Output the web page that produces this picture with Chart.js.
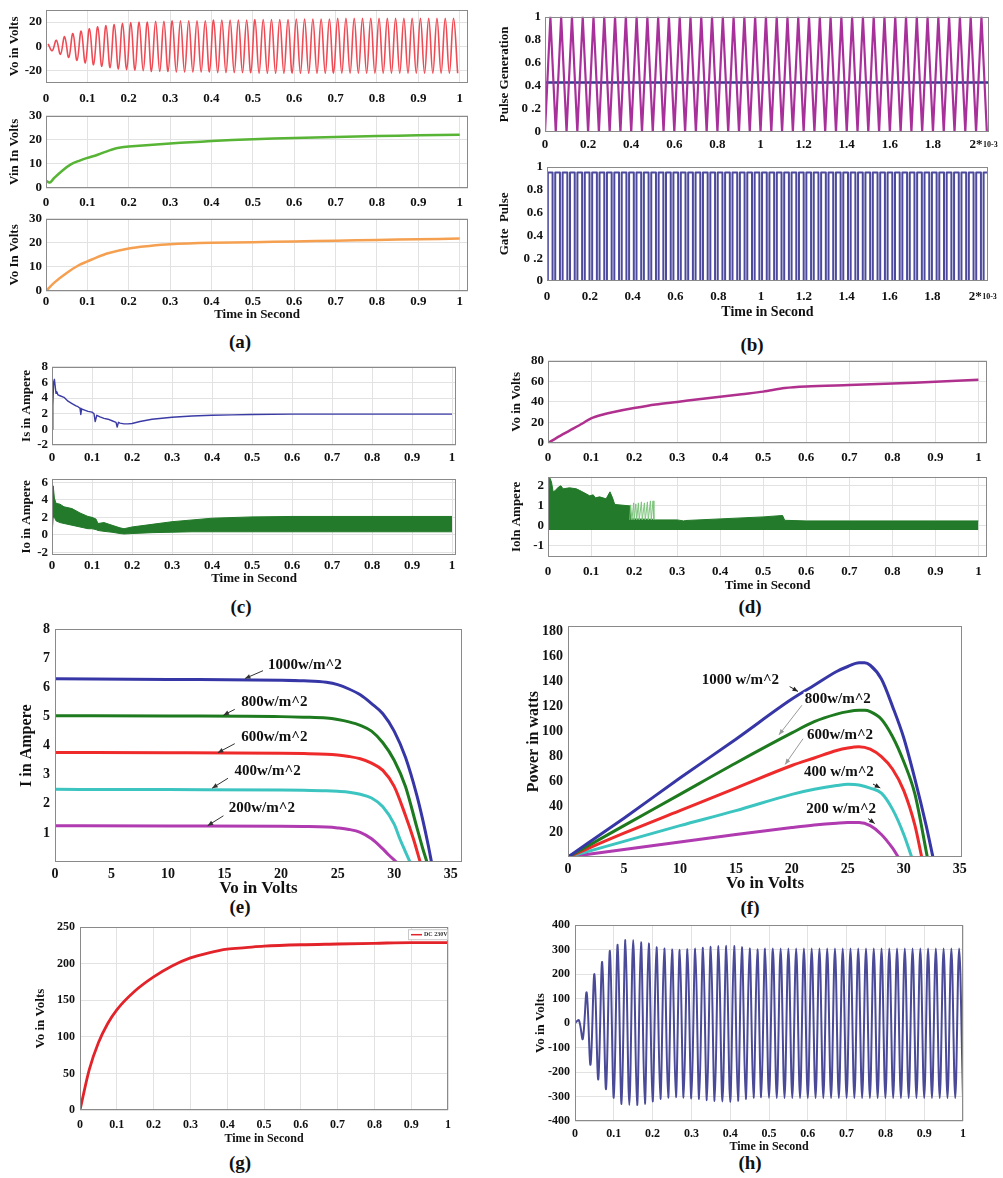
<!DOCTYPE html>
<html>
<head>
<meta charset="utf-8">
<script src="https://cdn.jsdelivr.net/npm/chart.js@4.4.0/dist/chart.umd.min.js"></script>
<style>
  html, body { margin: 0; padding: 0; background: #fff; }
  #fig { position: relative; width: 1003px; height: 1178px; overflow: hidden; background: #fff; }
  #fig canvas { position: absolute; }
  .cap { position: absolute; font: bold 19px 'Liberation Serif', serif; color: #111; transform: translate(-50%, -50%); }
</style>
</head>
<body>
<div id="fig">
  <div class="cap" style="left:240px;top:342px">(a)</div>
  <div class="cap" style="left:752px;top:345px">(b)</div>
  <div class="cap" style="left:241px;top:607px">(c)</div>
  <div class="cap" style="left:750px;top:607px">(d)</div>
  <div class="cap" style="left:240px;top:907px">(e)</div>
  <div class="cap" style="left:750px;top:908px">(f)</div>
  <div class="cap" style="left:240px;top:1163px">(g)</div>
  <div class="cap" style="left:750px;top:1163px">(h)</div>
</div>
<script>
// ---------- (a) inverter output / Vin / Vo ----------
const timeTicks = [0, 0.1, 0.2, 0.3, 0.4, 0.5, 0.6, 0.7, 0.8, 0.9, 1];
const aWaveFirst = 0.005, aWaveHalfPeriod = 0.01;
const aWavePeaks = [
  2, -3.5, 5, -6.5, 8, -9, 10.5, -11.5, 12.5, -13.5,
  14.5, -15, 16, -16.5, 17, -17.5, 18, -18.5, 19, -19,
  19.5, -19.5, 20, -20, 20, -20.5, 20.5, -20.5, 20.5, -20.5,
  21, -21, 21, -21, 21, -21, 21, -21, 21, -21,
  21.5, -21.5, 21.5, -21.5, 21.5, -21.5, 21.5, -21.5, 21.5, -21.5,
  22, -22, 22, -22, 22, -22, 22, -22, 22, -22,
  22.5, -22, 22.5, -22, 22.5, -22, 22.5, -22, 22.5, -22,
  23, -22, 23, -22, 23, -22, 23, -22, 23, -22,
  23, -22, 23, -22, 23, -22, 23, -22, 23, -22,
  23, -22, 23, -22, 23, -22, 23, -22, 23, -22
];
const vinT = [0, 0.005, 0.01, 0.015, 0.02, 0.04, 0.06, 0.08, 0.1, 0.12, 0.14, 0.16, 0.18, 0.2, 0.25, 0.3, 0.35, 0.4, 0.5, 0.6, 0.7, 0.8, 0.9, 1];
const vinV = [3, 2.5, 2.3, 3.2, 4.2, 7.3, 9.8, 11.3, 12.5, 13.5, 14.8, 16, 16.8, 17.2, 17.9, 18.5, 19, 19.5, 20.3, 20.8, 21.2, 21.6, 21.9, 22.1];
const voT = [0, 0.02, 0.05, 0.08, 0.1, 0.12, 0.15, 0.2, 0.25, 0.3, 0.4, 0.5, 0.6, 0.7, 0.8, 0.9, 1];
const voV = [0, 3.5, 7.5, 10.8, 12.3, 13.8, 15.7, 17.7, 18.7, 19.4, 20, 20.3, 20.6, 20.9, 21.2, 21.5, 21.8];

// ---------- (b) carrier / gate pulses (time in ms) ----------
const msTicks = [0, 0.2, 0.4, 0.6, 0.8, 1, 1.2, 1.4, 1.6, 1.8, 2];
const msLabels = ['0', '0.2', '0.4', '0.6', '0.8', '1', '1.2', '1.4', '1.6', '1.8', '2*'];
const unitTicks = [0, 0.2, 0.4, 0.6, 0.8, 1];
const unitLabels = ['0', '0 .2', '0.4', '0.6', '0.8', '1'];
const carrierHalfPeriod = 0.025;
const carrierLevels = [
  0, 1, 0, 1, 0, 1, 0, 1, 0, 1, 0, 1, 0, 1, 0, 1, 0, 1, 0, 1,
  0, 1, 0, 1, 0, 1, 0, 1, 0, 1, 0, 1, 0, 1, 0, 1, 0, 1, 0, 1,
  0, 1, 0, 1, 0, 1, 0, 1, 0, 1, 0, 1, 0, 1, 0, 1, 0, 1, 0, 1,
  0, 1, 0, 1, 0, 1, 0, 1, 0, 1, 0, 1, 0, 1, 0, 1, 0, 1, 0, 1,
  0, 1, 0
];
const refT = [0, 2.06];
const refLevel = [0.43, 0.43];
const gateHigh = 0.95;
const gateRise = [
  0.004, 0.0385, 0.073, 0.1075, 0.142, 0.1765, 0.211, 0.2455, 0.28, 0.3145,
  0.349, 0.3835, 0.418, 0.4525, 0.487, 0.5215, 0.556, 0.5905, 0.625, 0.6595,
  0.694, 0.7285, 0.763, 0.7975, 0.832, 0.8665, 0.901, 0.9355, 0.97, 1.0045,
  1.039, 1.0735, 1.108, 1.1425, 1.177, 1.2115, 1.246, 1.2805, 1.315, 1.3495,
  1.384, 1.4185, 1.453, 1.4875, 1.522, 1.5565, 1.591, 1.6255, 1.66, 1.6945,
  1.729, 1.7635, 1.798, 1.8325, 1.867, 1.9015, 1.936, 1.9705, 2.005, 2.0395
];
const gateFall = [
  0.026, 0.0605, 0.095, 0.1295, 0.164, 0.1985, 0.233, 0.2675, 0.302, 0.3365,
  0.371, 0.4055, 0.44, 0.4745, 0.509, 0.5435, 0.578, 0.6125, 0.647, 0.6815,
  0.716, 0.7505, 0.785, 0.8195, 0.854, 0.8885, 0.923, 0.9575, 0.992, 1.0265,
  1.061, 1.0955, 1.13, 1.1645, 1.199, 1.2335, 1.268, 1.3025, 1.337, 1.3715,
  1.406, 1.4405, 1.475, 1.5095, 1.544, 1.5785, 1.613, 1.6475, 1.682, 1.7165,
  1.751, 1.7855, 1.82, 1.8545, 1.889, 1.9235, 1.958, 1.9925, 2.027, 2.0615
];

// ---------- (c) Is / Io ----------
const isT = [0, 0.002, 0.004, 0.006, 0.008, 0.01, 0.012, 0.015, 0.02, 0.03, 0.04, 0.05, 0.06, 0.065, 0.07, 0.072, 0.074, 0.08, 0.09, 0.1, 0.105, 0.108, 0.112, 0.12, 0.13, 0.14, 0.15, 0.16, 0.163, 0.166, 0.17, 0.18, 0.19, 0.2, 0.22, 0.25, 0.3, 0.35, 0.4, 0.45, 0.5, 0.6, 0.7, 0.8, 0.9, 1];
const isA = [0, 3, 6, 6.4, 5.5, 4.6, 4.8, 4.4, 4.3, 4.1, 3.6, 3.3, 3, 2.9, 2.7, 1.9, 2.6, 2.5, 2.3, 2.2, 2, 1, 1.8, 1.6, 1.4, 1.3, 1.1, 0.9, 0.3, 0.9, 0.8, 0.7, 0.7, 0.75, 1, 1.3, 1.55, 1.7, 1.8, 1.85, 1.9, 1.95, 1.95, 1.95, 1.95, 1.95];
const ioT = [0, 0.003, 0.006, 0.01, 0.02, 0.03, 0.05, 0.07, 0.09, 0.1, 0.11, 0.115, 0.13, 0.15, 0.17, 0.18, 0.2, 0.25, 0.3, 0.35, 0.4, 0.5, 0.6, 0.7, 0.8, 0.9, 1];
const ioHigh = [1.5, 5.6, 4.2, 3.6, 3.5, 3.2, 3.0, 2.5, 2.1, 2.0, 1.8, 1.3, 1.4, 1.1, 0.8, 0.7, 0.9, 1.2, 1.5, 1.7, 1.9, 2.05, 2.1, 2.1, 2.1, 2.1, 2.1];
const ioLow = [0, 2.0, 2.0, 1.6, 1.4, 1.3, 1.1, 0.9, 0.7, 0.7, 0.6, 0.5, 0.4, 0.3, 0.15, 0.1, 0.15, 0.25, 0.3, 0.35, 0.35, 0.35, 0.35, 0.35, 0.35, 0.35, 0.35];

// ---------- (d) boost Vo / Io ----------
const dvT = [0, 0.02, 0.05, 0.08, 0.1, 0.13, 0.15, 0.2, 0.25, 0.3, 0.35, 0.4, 0.45, 0.5, 0.55, 0.6, 0.7, 0.8, 0.9, 1];
const dvV = [0, 5, 12, 19, 24, 28, 30, 34, 37.5, 40, 42.5, 45, 47.5, 50, 53.5, 55, 56.5, 58, 59.5, 61.5];
const diT = [0, 0.004, 0.008, 0.012, 0.016, 0.025, 0.03, 0.035, 0.05, 0.066, 0.08, 0.097, 0.105, 0.11, 0.12, 0.135, 0.144, 0.15, 0.155, 0.19, 0.192, 0.245, 0.25, 0.3, 0.315, 0.32, 0.4, 0.5, 0.545, 0.55, 0.6, 0.7, 0.8, 0.9, 1];
const diHigh = [1.0, 2.4, 2.2, 1.7, 1.75, 1.95, 2.0, 1.85, 1.9, 1.85, 1.7, 1.5, 1.55, 1.4, 1.45, 1.35, 1.7, 1.4, 1.07, 1.0, 0.35, 0.33, 0.3, 0.3, 0.25, 0.27, 0.35, 0.45, 0.52, 0.28, 0.25, 0.25, 0.25, 0.25, 0.25];
const diFloor = -0.2;
// lighter switching spikes between 0.19 and 0.245
const diSpikeT = [0.19, 0.192, 0.195, 0.199, 0.2, 0.204, 0.206, 0.21, 0.212, 0.217, 0.219, 0.224, 0.226, 0.231, 0.233, 0.238, 0.24, 0.244, 0.246];
const diSpike = [0.3, 1.05, 0.3, 1.15, 0.3, 1.1, 0.3, 1.15, 0.3, 1.2, 0.3, 1.15, 0.3, 1.2, 0.3, 1.25, 0.3, 1.25, 0.3];

// ---------- (e) I-V curves ----------
const voltTicks = [0, 5, 10, 15, 20, 25, 30, 35];
const ivV1000 = [0, 10, 20, 22, 24, 25, 26, 27, 28, 29, 30, 31, 32, 32.5, 33, 33.3];
const ivI1000 = [6.3, 6.28, 6.25, 6.23, 6.18, 6.1, 5.95, 5.75, 5.45, 5.1, 4.5, 3.6, 2.3, 1.5, 0.6, 0];
const ivV800 = [0, 10, 20, 22, 24, 25, 26, 27, 28, 29, 30, 31, 32, 32.5, 32.9];
const ivI800 = [5.03, 5.02, 5.0, 4.98, 4.95, 4.9, 4.82, 4.7, 4.5, 4.1, 3.5, 2.6, 1.2, 0.5, 0];
const ivV600 = [0, 10, 20, 22, 24, 25, 26, 27, 28, 29, 30, 31, 31.7, 32.3];
const ivI600 = [3.77, 3.76, 3.74, 3.73, 3.71, 3.68, 3.63, 3.55, 3.4, 3.15, 2.6, 1.6, 0.8, 0];
const ivV400 = [0, 10, 20, 22, 24, 25, 26, 27, 28, 29, 30, 30.5, 31, 31.4];
const ivI400 = [2.5, 2.49, 2.48, 2.47, 2.45, 2.43, 2.4, 2.33, 2.2, 1.9, 1.3, 0.8, 0.35, 0];
const ivV200 = [0, 10, 20, 22, 24, 25, 26, 27, 28, 29, 29.5, 30.2];
const ivI200 = [1.25, 1.24, 1.23, 1.22, 1.2, 1.17, 1.12, 1.02, 0.8, 0.45, 0.25, 0];
const eNotes = [
  { text: '1000w/m^2', x: 22.1, y: 6.78, from: [18.4, 6.58], to: [16.8, 6.31] },
  { text: '800w/m^2', x: 19.4, y: 5.49, from: [15.9, 5.25], to: [14.9, 5.05] },
  { text: '600w/m^2', x: 19.4, y: 4.31, from: [15.9, 4.07], to: [14.4, 3.76] },
  { text: '400w/m^2', x: 18.8, y: 3.12, from: [15.3, 2.88], to: [13.9, 2.54] },
  { text: '200w/m^2', x: 18.3, y: 1.86, from: [14.9, 1.59], to: [13.5, 1.25] }
];

// ---------- (f) P-V curves ----------
const pvV1000 = [0, 5, 10, 15, 20, 22, 24, 25, 26, 26.5, 27, 28, 29, 30, 31, 32, 32.6];
const pvP1000 = [0, 31, 63, 94, 126, 137, 148, 152, 155, 155, 153, 142, 120, 95, 62, 25, 0];
const pvV800 = [0, 5, 10, 15, 20, 22, 24, 25, 26, 26.5, 27, 28, 29, 30, 31, 32.1];
const pvP800 = [0, 25, 50, 75, 99, 108, 114, 116, 117, 117, 116, 110, 96, 76, 50, 0];
const pvV600 = [0, 5, 10, 15, 20, 22, 24, 25, 26, 27, 28, 29, 30, 31, 31.6];
const pvP600 = [0, 19, 37, 55, 73, 79, 85, 87, 88, 86, 80, 70, 53, 25, 0];
const pvV400 = [0, 5, 10, 15, 20, 22, 24, 25, 26, 27, 28, 29, 30, 30.7];
const pvP400 = [0, 12.5, 25, 37, 50, 54, 57, 58, 57.5, 55, 51, 38, 18, 0];
const pvV200 = [0, 5, 10, 15, 20, 22, 24, 25, 26, 27, 28, 29, 29.5];
const pvP200 = [0, 6, 12, 18, 23.5, 25.5, 27, 27.5, 27.5, 25, 18, 7, 0];
const fNotes = [
  { text: '1000 w/m^2', x: 15.4, y: 140.8, from: [19.8, 136], to: [20.55, 132.1], c: '#222' },
  { text: '800w/m^2', x: 24.1, y: 125.8, from: [20.9, 121.1], to: [18.85, 97.5], c: '#999' },
  { text: '600w/m^2', x: 24.3, y: 97.5, from: [21.0, 94.4], to: [19.4, 73.9], c: '#999' },
  { text: '400 w/m^2', x: 24.2, y: 67.6, from: [27.25, 58.2], to: [27.9, 55.1], c: '#222' },
  { text: '200 w/m^2', x: 24.4, y: 38.5, from: [26.8, 30.7], to: [27.4, 26.7], c: '#222' }
];

// ---------- (g) DC link voltage ----------
const gT = [0, 0.025, 0.05, 0.075, 0.1, 0.15, 0.2, 0.25, 0.3, 0.35, 0.4, 0.45, 0.5, 0.6, 0.7, 0.8, 0.9, 1];
const gV = [0, 55, 92, 118, 137, 163, 182, 197, 208, 215, 220, 222, 224, 226, 227, 228, 229, 229];

// ---------- (h) AC output ----------
const hFirst = 0.01, hHalfPeriod = 0.01;
const hPeaks = [
  12, -65, 125, -170, 200, -230, 250, -270, 295, -305,
  320, -330, 340, -335, 340, -335, 330, -330, 325, -320,
  310, -310, 305, -305, 302, -303, 300, -305, 302, -308,
  305, -310, 308, -315, 312, -318, 315, -320, 316, -322,
  315, -318, 310, -310, 305, -305, 302, -303, 305, -305,
  305, -306, 305, -306, 305, -306, 305, -306, 305, -306,
  305, -306, 305, -306, 305, -306, 305, -306, 305, -306,
  305, -306, 305, -306, 305, -306, 305, -306, 305, -306,
  305, -306, 305, -306, 305, -306, 305, -306, 305, -306,
  305, -306, 305, -306, 305, -306, 305, -306, 305, -306
];

// ================= drawing =================
Chart.defaults.font.family = "'Liberation Serif', 'Times New Roman', serif";
Chart.defaults.font.weight = 'bold';
Chart.defaults.color = '#111';

const fig = document.getElementById('fig');
const pts = (xs, ys) => xs.map((x, i) => ({ x, y: ys[i] }));
const wave = (t0, dt, ys) => ys.map((y, i) => ({ x: t0 + i * dt, y }));

function line(data, color, width, more) {
  return Object.assign({ data, borderColor: color, backgroundColor: color, borderWidth: width,
    pointRadius: 0, fill: false, tension: 0, borderJoinStyle: 'round' }, more || {});
}

const frame = {
  id: 'frame',
  afterDatasetsDraw(chart) {
    const a = chart.chartArea, ctx = chart.ctx;
    ctx.save();
    ctx.strokeStyle = '#8a8a8a';
    ctx.lineWidth = 1;
    ctx.strokeRect(Math.round(a.left) + 0.5, Math.round(a.top) + 0.5, Math.round(a.width) - 1, Math.round(a.height) - 1);
    ctx.restore();
  }
};

const notes = {
  id: 'notes',
  afterDatasetsDraw(chart, args, opts) {
    if (!opts.items) return;
    const { ctx } = chart, x = chart.scales.x, y = chart.scales.y;
    ctx.save();
    ctx.font = `bold ${opts.size}px 'Liberation Serif', serif`;
    ctx.textAlign = 'center';
    ctx.textBaseline = 'middle';
    opts.items.forEach(n => {
      const px = x.getPixelForValue(n.x), py = y.getPixelForValue(n.y);
      const w = ctx.measureText(n.text).width;
      if (opts.box) {
        ctx.fillStyle = '#fff';
        ctx.fillRect(px - w / 2 - 1, py - opts.size / 2, w + 2, opts.size);
      }
      ctx.fillStyle = '#111';
      ctx.fillText(n.text, px, py);
      const x1 = x.getPixelForValue(n.from[0]), y1 = y.getPixelForValue(n.from[1]);
      const x2 = x.getPixelForValue(n.to[0]), y2 = y.getPixelForValue(n.to[1]);
      const col = n.c || '#333';
      ctx.strokeStyle = col; ctx.fillStyle = col; ctx.lineWidth = 1;
      ctx.beginPath(); ctx.moveTo(x1, y1); ctx.lineTo(x2, y2); ctx.stroke();
      const ang = Math.atan2(y2 - y1, x2 - x1), hl = 6;
      ctx.beginPath();
      ctx.moveTo(x2, y2);
      ctx.lineTo(x2 - hl * Math.cos(ang - 0.4), y2 - hl * Math.sin(ang - 0.4));
      ctx.lineTo(x2 - hl * Math.cos(ang + 0.4), y2 - hl * Math.sin(ang + 0.4));
      ctx.closePath(); ctx.fill();
    });
    ctx.restore();
  }
};

const msUnit = {
  id: 'msUnit',
  afterDraw(chart) {
    const x = chart.scales.x, ctx = chart.ctx;
    ctx.save();
    ctx.font = "bold 8px 'Liberation Serif', serif";
    ctx.fillStyle = '#111';
    ctx.textBaseline = 'middle';
    ctx.fillText('10-3', x.getPixelForValue(2) + 7, chart.chartArea.bottom + x.options.ticks.padding + 8);
    ctx.restore();
  }
};

const dcLegend = {
  id: 'dcLegend',
  afterDraw(chart) {
    const a = chart.chartArea, ctx = chart.ctx;
    const w = 39, h = 10, l = a.right - w - 1, t = a.top + 2;
    ctx.save();
    ctx.fillStyle = '#fff'; ctx.fillRect(l, t, w, h);
    ctx.strokeStyle = '#c8c8c8'; ctx.lineWidth = 1; ctx.strokeRect(l + 0.5, t + 0.5, w, h);
    ctx.strokeStyle = '#e3232a'; ctx.lineWidth = 1.5;
    ctx.beginPath(); ctx.moveTo(l + 3, t + 5.5); ctx.lineTo(l + 14, t + 5.5); ctx.stroke();
    ctx.fillStyle = '#333'; ctx.font = "bold 6px 'Liberation Serif', serif"; ctx.textBaseline = 'middle';
    ctx.fillText('DC 230V', l + 16, t + 5.5);
    ctx.restore();
  }
};

function scale(a, horiz, size) {
  return {
    type: 'linear', min: a.min, max: a.max,
    border: { display: false },
    grid: { display: !!a.grid, color: '#e2e2e2', drawTicks: false, lineWidth: 1 },
    afterBuildTicks: s => { s.ticks = a.ticks.map(value => ({ value })); },
    ticks: {
      autoSkip: false, maxRotation: 0, minRotation: 0, padding: a.pad, color: '#111',
      font: { size: a.fs || 13, weight: 'bold' },
      callback: (v, i) => a.labels ? a.labels[i] : String(v)
    },
    title: a.title
      ? { display: true, text: a.title, color: '#111', padding: 0, font: { size: a.tfs || 13, weight: 'bold' } }
      : { display: false },
    afterFit: s => { if (horiz) s.height = size; else s.width = size; }
  };
}

function build(box, yw, xh, xa, ya, datasets, plugins, pluginOpts) {
  const padT = 10, padR = 16;
  const cv = document.createElement('canvas');
  cv.width = box.r - box.l + yw + padR;
  cv.height = box.b - box.t + padT + xh;
  cv.style.left = (box.l - yw) + 'px';
  cv.style.top = (box.t - padT) + 'px';
  fig.appendChild(cv);
  return new Chart(cv, {
    type: 'line',
    data: { datasets },
    options: {
      responsive: false, animation: false, events: [],
      layout: { padding: { top: padT, right: padR, left: 0, bottom: 0 } },
      plugins: Object.assign({ legend: { display: false }, tooltip: { enabled: false } }, pluginOpts || {}),
      scales: { x: scale(xa, true, xh), y: scale(ya, false, yw) }
    },
    plugins: [frame].concat(plugins || [])
  });
}

// (a)
build({ l: 46, t: 8, r: 468, b: 83 }, 39, 22,
  { min: 0, max: 1.02, ticks: timeTicks, pad: 7.5, grid: true },
  { min: -30, max: 30, ticks: [-20, 0, 20], pad: 4, grid: true, title: 'Vo in Volts' },
  [line(wave(aWaveFirst, aWaveHalfPeriod, aWavePeaks), '#ee4b55', 1.6, { tension: 0.4 })]);
build({ l: 46, t: 114, r: 468, b: 188 }, 39, 22,
  { min: 0, max: 1.02, ticks: timeTicks, pad: 7, grid: true },
  { min: 0, max: 30, ticks: [0, 10, 20, 30], pad: 4, grid: true, title: 'Vin In Volts' },
  [line(pts(vinT, vinV), '#57b435', 2.5, { tension: 0.3 })]);
build({ l: 46, t: 217, r: 468, b: 291 }, 39, 31,
  { min: 0, max: 1.02, ticks: timeTicks, pad: 3, grid: true, title: 'Time in Second', tfs: 13 },
  { min: 0, max: 30, ticks: [0, 10, 20, 30], pad: 4, grid: true, title: 'Vo In Volts' },
  [line(pts(voT, voV), '#f5a050', 2.5, { tension: 0.3 })]);

// (b)
build({ l: 545, t: 15, r: 989, b: 132 }, 48, 22,
  { min: 0, max: 2.06, ticks: msTicks, labels: msLabels, pad: 4.5 },
  { min: 0, max: 1, ticks: unitTicks, labels: unitLabels, pad: 4, title: 'Pulse Generation' },
  [line(wave(0, carrierHalfPeriod, carrierLevels), '#a8309a', 2.2),
   line(pts(refT, refLevel), '#2d3a8c', 2.5)],
  [msUnit]);
const gateData = [{ x: 0, y: 0 }];
gateRise.forEach((r, i) => { gateData.push({ x: r, y: gateHigh }, { x: gateFall[i], y: 0 }); });
build({ l: 547, t: 165, r: 988, b: 281 }, 50, 40,
  { min: 0, max: 2.06, ticks: msTicks, labels: msLabels, pad: 7.5, title: 'Time in Second', tfs: 14 },
  { min: 0, max: 1, ticks: unitTicks, labels: unitLabels, pad: 4, title: 'Gate  Pulse' },
  [line(gateData, '#4d4a9e', 2, { stepped: true })],
  [msUnit]);

// (c)
build({ l: 52, t: 365, r: 456, b: 445 }, 33, 22,
  { min: 0, max: 1.01, ticks: timeTicks, pad: 4.5, grid: true },
  { min: -2, max: 8, ticks: [-2, 0, 2, 4, 6, 8], pad: 4, grid: true, title: 'Is in Ampere' },
  [line(pts(isT, isA), '#3b3ba5', 1.4)]);
build({ l: 52, t: 477, r: 456, b: 555 }, 33, 31,
  { min: 0, max: 1.01, ticks: timeTicks, pad: 3, grid: true, title: 'Time in Second' },
  { min: -2.3, max: 6.4, ticks: [-2, 0, 2, 4, 6], pad: 4, grid: true, title: 'Io in Ampere' },
  [line(pts(ioT, ioLow), '#237a2a', 1),
   line(pts(ioT, ioHigh), '#237a2a', 1, { fill: '-1', backgroundColor: '#237a2a' })]);

// (d)
build({ l: 548, t: 359, r: 987, b: 443 }, 39, 22,
  { min: 0, max: 1.02, ticks: timeTicks, pad: 6.5, grid: true },
  { min: 0, max: 80, ticks: [0, 20, 40, 60, 80], pad: 4, grid: true, title: 'Vo in Volts' },
  [line(pts(dvT, dvV), '#b0308e', 2.5, { tension: 0.3 })]);
build({ l: 548, t: 475, r: 987, b: 557 }, 39, 36,
  { min: 0, max: 1.02, ticks: timeTicks, pad: 6.5, grid: true, title: 'Time in Second' },
  { min: -1.55, max: 2.45, ticks: [-1, 0, 1, 2], pad: 4, grid: true, title: 'Ioln Ampere' },
  [line(pts(diSpikeT, diSpike), '#7cc47c', 1),
   line(pts(diT, diHigh), '#237a2a', 1, { fill: { value: diFloor }, backgroundColor: '#237a2a' })]);

// (e)
build({ l: 55, t: 626, r: 462, b: 862 }, 38, 37,
  { min: 0, max: 36, ticks: voltTicks, pad: 4, fs: 14, title: 'Vo in Volts', tfs: 17 },
  { min: 0, max: 8, ticks: [1, 2, 3, 4, 5, 6, 7, 8], pad: 5, fs: 14, title: 'I in Ampere', tfs: 16 },
  [line(pts(ivV1000, ivI1000), '#3636a6', 3, { cubicInterpolationMode: 'monotone' }),
   line(pts(ivV800, ivI800), '#1e7a1e', 3, { cubicInterpolationMode: 'monotone' }),
   line(pts(ivV600, ivI600), '#ee2a2a', 3, { cubicInterpolationMode: 'monotone' }),
   line(pts(ivV400, ivI400), '#3cc4c0', 3, { cubicInterpolationMode: 'monotone' }),
   line(pts(ivV200, ivI200), '#b03ab0', 3, { cubicInterpolationMode: 'monotone' })],
  [notes], { notes: { items: eNotes, size: 15, box: false } });

// (f)
build({ l: 568, t: 623, r: 962, b: 857 }, 44, 37,
  { min: 0, max: 35.2, ticks: voltTicks, pad: 4, fs: 14, title: 'Vo in Volts', tfs: 17 },
  { min: 0, max: 184, ticks: [20, 40, 60, 80, 100, 120, 140, 160, 180], pad: 5, fs: 14, title: 'Power in watts', tfs: 16 },
  [line(pts(pvV1000, pvP1000), '#3636a6', 3, { cubicInterpolationMode: 'monotone' }),
   line(pts(pvV800, pvP800), '#1e7a1e', 3, { cubicInterpolationMode: 'monotone' }),
   line(pts(pvV600, pvP600), '#ee2a2a', 3, { cubicInterpolationMode: 'monotone' }),
   line(pts(pvV400, pvP400), '#3cc4c0', 3, { cubicInterpolationMode: 'monotone' }),
   line(pts(pvV200, pvP200), '#b03ab0', 3, { cubicInterpolationMode: 'monotone' })],
  [notes], { notes: { items: fNotes, size: 15, box: true } });

// (g)
build({ l: 80, t: 925, r: 448, b: 1110 }, 47, 36,
  { min: 0, max: 1, ticks: timeTicks, pad: 8, fs: 12, grid: true, title: 'Time in Second', tfs: 12 },
  { min: 0, max: 250, ticks: [0, 50, 100, 150, 200, 250], pad: 5, fs: 12, grid: true, title: 'Vo in Volts' },
  [line(pts(gT, gV), '#e3232a', 2.8, { cubicInterpolationMode: 'monotone' })],
  [dcLegend]);

// (h)
build({ l: 575, t: 923, r: 963, b: 1121 }, 42, 33,
  { min: 0, max: 1, ticks: timeTicks, pad: 6, fs: 12, grid: true, title: 'Time in Second', tfs: 12 },
  { min: -400, max: 400, ticks: [-400, -300, -200, -100, 0, 100, 200, 300, 400], pad: 5, fs: 12, grid: true, title: 'Vo in Volts' },
  [line([{ x: 0, y: 0 }].concat(wave(hFirst, hHalfPeriod, hPeaks)), '#4a4a98', 2, { tension: 0.35 })]);
</script>
</body>
</html>
